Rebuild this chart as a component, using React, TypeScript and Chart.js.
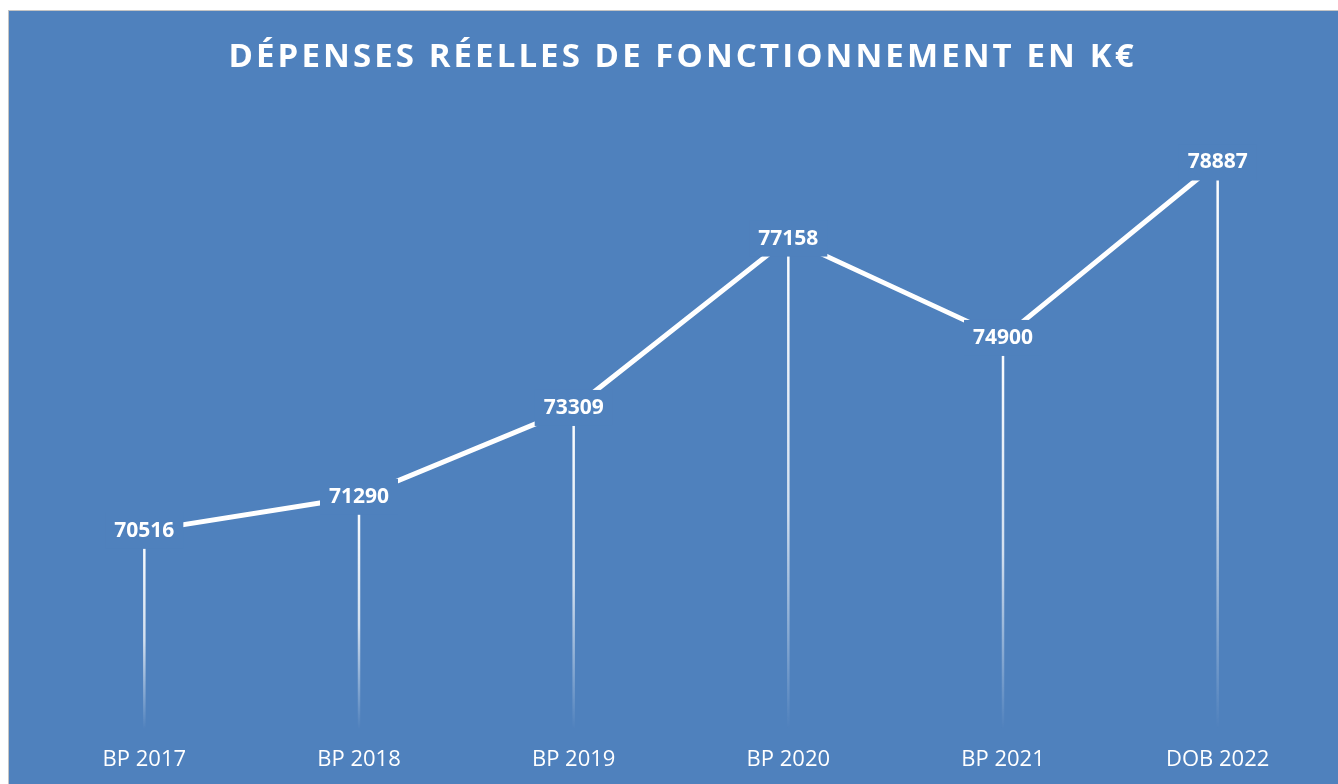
import React, { useEffect, useRef } from "react";
import { Chart, registerables } from "chart.js";

Chart.register(...registerables);

const categories = ["BP 2017", "BP 2018", "BP 2019", "BP 2020", "BP 2021", "DOB 2022"];
const values = [70516, 71290, 73309, 77158, 74900, 78887];
const titleText = "DÉPENSES RÉELLES DE FONCTIONNEMENT EN K€";
const yMin = 66000;
const yMax = 80000;

const BG = "#4F81BD";
const FONT = "'Open Sans', 'DejaVu Sans', sans-serif";

const dropLinesPlugin = {
  id: "dropLines",
  beforeDatasetsDraw(chart: any) {
    const ctx = chart.ctx;
    const meta = chart.getDatasetMeta(0);
    const bottom = chart.chartArea.bottom;
    ctx.save();
    meta.data.forEach((el: any) => {
      const g = ctx.createLinearGradient(0, el.y, 0, bottom);
      g.addColorStop(0, "rgba(255,255,255,1)");
      g.addColorStop(0.55, "rgba(255,255,255,0.75)");
      g.addColorStop(1, "rgba(255,255,255,0)");
      ctx.strokeStyle = g;
      ctx.lineWidth = 2.5;
      ctx.beginPath();
      ctx.moveTo(el.x, el.y);
      ctx.lineTo(el.x, bottom);
      ctx.stroke();
    });
    ctx.restore();
  },
};

const labelsPlugin = {
  id: "valueLabels",
  afterDatasetsDraw(chart: any) {
    const ctx = chart.ctx;
    const meta = chart.getDatasetMeta(0);
    const data = chart.data.datasets[0].data;
    ctx.save();
    meta.data.forEach((el: any, i: number) => {
      ctx.fillStyle = BG;
      ctx.fillRect(el.x - 39, el.y - 18, 78, 36);
      ctx.fillStyle = "#ffffff";
      ctx.font = `bold 21px ${FONT}`;
      ctx.textAlign = "center";
      ctx.textBaseline = "middle";
      ctx.fillText(String(data[i]), el.x, el.y);
    });
    ctx.restore();
  },
};

const titlePlugin = {
  id: "spacedTitle",
  afterDraw(chart: any) {
    const ctx = chart.ctx;
    ctx.save();
    ctx.font = `bold 33px ${FONT}`;
    ctx.fillStyle = "#ffffff";
    ctx.textBaseline = "middle";
    ctx.textAlign = "left";
    (ctx as any).letterSpacing = "0px";
    const w = ctx.measureText(titleText).width;
    const n = Array.from(titleText).length;
    const target = 905;
    const sp = Math.max(0, (target - w) / (n - 1));
    (ctx as any).letterSpacing = `${sp}px`;
    const cx = chart.width / 2;
    ctx.fillText(titleText, cx - target / 2, 47);
    (ctx as any).letterSpacing = "0px";
    ctx.restore();
  },
};

export default function App() {
  const canvasRef = useRef<HTMLCanvasElement | null>(null);

  useEffect(() => {
    if (!canvasRef.current) return;
    const chart = new Chart(canvasRef.current, {
      type: "line",
      data: {
        labels: categories,
        datasets: [
          {
            data: values,
            borderColor: "#ffffff",
            borderWidth: 5,
            pointRadius: 0,
            pointHoverRadius: 0,
            tension: 0,
            fill: false,
          },
        ],
      },
      options: {
        animation: false,
        responsive: false,
        devicePixelRatio: 1,
        layout: { padding: { top: 102.5, bottom: 10, left: 28, right: 28 } },
        plugins: {
          legend: { display: false },
          title: { display: false },
          tooltip: { enabled: false },
        },
        scales: {
          x: {
            offset: true,
            grid: { display: false },
            border: { display: false },
            ticks: {
              color: "#ffffff",
              padding: 8.5,
              font: { family: FONT, size: 22 },
              maxRotation: 0,
            },
          },
          y: {
            display: false,
            min: yMin,
            max: yMax,
          },
        },
      },
      plugins: [dropLinesPlugin, labelsPlugin, titlePlugin],
    });
    return () => chart.destroy();
  }, []);

  return (
    <div
      style={{
        position: "absolute",
        left: 8,
        top: 10,
        width: 1330,
        height: 774,
        overflow: "hidden",
      }}
    >
      <div
        style={{
          width: 1345,
          height: 781,
          background: BG,
          borderLeft: "1px solid #c4c4c4",
          borderTop: "1px solid #c4c4c4",
        }}
      >
        <canvas ref={canvasRef} width={1344} height={780} style={{ display: "block" }} />
      </div>
    </div>
  );
}
